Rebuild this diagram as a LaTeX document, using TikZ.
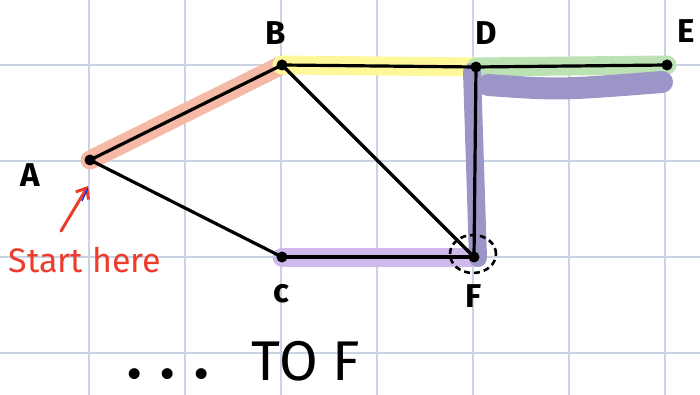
\documentclass[tikz,border=0pt]{standalone}
\usepackage{fontspec}
\setmainfont{Fira Sans}
\usetikzlibrary{arrows.meta}
\definecolor{gridc}{HTML}{C9D3E3}
\definecolor{salmon}{HTML}{F5B9A6}
\definecolor{hlyellow}{HTML}{FFF89A}
\definecolor{hlgreen}{HTML}{BCE2B3}
\definecolor{hlblue}{HTML}{9C96C8}
\definecolor{hllav}{HTML}{CFB8EA}
\definecolor{redink}{HTML}{EE3B2B}
\tikzset{
  x=1pt, y=-1pt,
  vtx/.style={circle, inner sep=0pt, minimum size=11pt},
  hl/.style={line width=19pt, line cap=round},
  edge/.style={line width=3.2pt, line cap=round},
  lbl/.style={font=\fontsize{33}{34}\selectfont\bfseries, inner sep=0pt},
}
\begin{document}
\begin{tikzpicture}
\useasboundingbox (0,0) rectangle (700,395);
% grid
\foreach \gx in {89,185,281,377,473,569,665} \draw[gridc, line width=1.2pt] (\gx,0) -- (\gx,395);
\foreach \gy in {65,161,257,353} \draw[gridc, line width=1.2pt] (0,\gy) -- (700,\gy);
% vertices
\node[vtx] (A) at (90,160) {};
\node[vtx] (B) at (282,65) {};
\node[vtx] (D) at (476,67) {};
\node[vtx] (E) at (667,65) {};
\node[vtx] (C) at (282,257) {};
\node[vtx] (F) at (474,257) {};
\coordinate (P1) at (488,85);
\coordinate (P2) at (662,82);
% highlights
\draw[hl, salmon] (A.center) -- (B.center);
\draw[hl, hlyellow] (B.center) -- (D.center);
\draw[hl, hlgreen] (D.center) -- (E.center);
\draw[hl, hllav] (C.center) -- (F.center);
\draw[hl, hlblue, line width=18pt] (472,72) -- (478,258);
\draw[hl, hlblue, line width=22pt] (P1) .. controls (560,90) .. (P2);
% edges
\draw[edge] (A.center) -- (B.center);
\draw[edge] (A.center) -- (C.center);
\draw[edge] (B.center) -- (D.center);
\draw[edge] (D.center) -- (E.center);
\draw[edge] (B.center) -- (F.center);
\draw[edge] (C.center) -- (F.center);
\draw[edge] (D.center) -- (F.center);
\foreach \v in {A,B,C,D,E,F} \fill (\v.center) circle [radius=5.5pt];
% dashed circle at F
\draw[line width=2.6pt, dash pattern=on 6pt off 4pt] (473,254) circle [x radius=23pt, y radius=19pt];
% labels
\node[lbl] (lA) at (30,175) {A};
\node[lbl] (lB) at (276,33) {B};
\node[lbl] (lD) at (486,33) {D};
\node[lbl] (lE) at (686,31) {E};
\node[lbl] (lC) at (281,294) {c};
\node[lbl] (lF) at (474,296) {F};
% start here
\node[text=redink, font=\fontsize{34}{36}\selectfont, inner sep=0pt] (start) at (85,260) {Start here};
\coordinate (tip) at (88,186);
\coordinate (tail) at (61,231);
\draw[redink, line width=3pt, line cap=round, -{Straight Barb[length=9pt, width=15pt]}] (tail) -- (tip);
\draw[blue!80!cyan, line width=1.3pt] (82,201) -- (88,188);
% bottom text
\node[font=\fontsize{60}{60}\selectfont\bfseries, inner sep=0pt] (dots) at (168,374) {. . .};
\node[font=\fontsize{56}{56}\selectfont, inner sep=0pt] (tof) at (306,361) {TO F};
\end{tikzpicture}
\end{document}
